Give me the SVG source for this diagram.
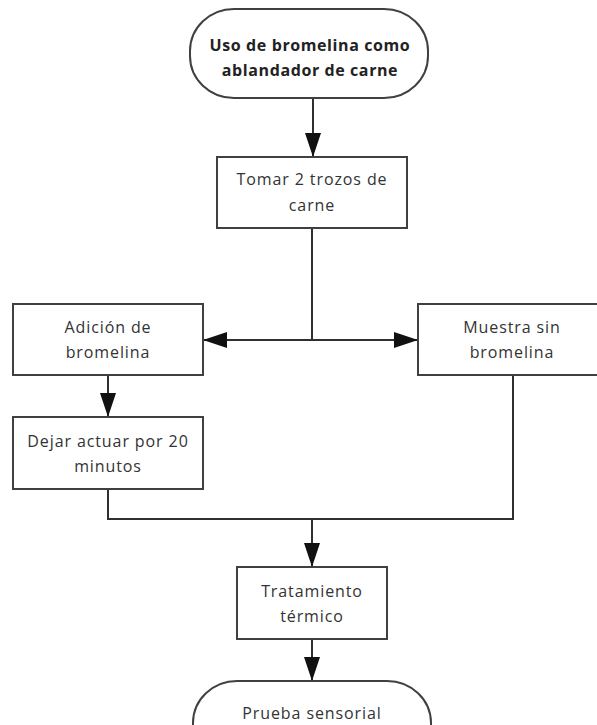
<svg xmlns="http://www.w3.org/2000/svg" width="597" height="725" viewBox="0 0 597 725">
<style>
.node{fill:#ffffff;stroke:#404040;stroke-width:2}
.t{font-family:"Open Sans","Noto Sans",sans-serif;font-size:16px;letter-spacing:0.9px;fill:#333333;text-anchor:middle}
.b{font-weight:bold;fill:#222222;letter-spacing:0.6px}
.c{fill:none;stroke:#303030;stroke-width:2}
</style>
<defs>
<marker id="ah" markerUnits="userSpaceOnUse" markerWidth="26" markerHeight="18" refX="24" refY="8" orient="auto">
<path d="M0 0 L24 8 L0 16 Z" fill="#111111"/>
</marker>
</defs>
<rect width="597" height="725" fill="#ffffff"/>
<g id="connectors">
<path class="c" d="M313 98 V157" marker-end="url(#ah)"/>
<path class="c" d="M312 228 V340"/>
<path class="c" d="M312 340 H203" marker-end="url(#ah)"/>
<path class="c" d="M312 340 H418" marker-end="url(#ah)"/>
<path class="c" d="M108 375 V417" marker-end="url(#ah)"/>
<path class="c" d="M108 489 V519 H312 V567" marker-end="url(#ah)"/>
<path class="c" d="M513 375 V519 H312"/>
<path class="c" d="M312 639 V681" marker-end="url(#ah)"/>
</g>
<g id="start">
<rect class="node" x="190" y="9" width="238" height="89" rx="44" ry="42"/>
<text class="t b" x="310" y="51">Uso de bromelina como</text>
<text class="t b" x="310" y="76">ablandador de carne</text>
</g>
<g id="tomar">
<rect class="node" x="217" y="157" width="190" height="71"/>
<text class="t" x="312" y="185">Tomar 2 trozos de</text>
<text class="t" x="312" y="211">carne</text>
</g>
<g id="adicion">
<rect class="node" x="13" y="304" width="190" height="71"/>
<text class="t" x="108" y="333">Adición de</text>
<text class="t" x="108" y="358">bromelina</text>
</g>
<g id="muestra">
<rect class="node" x="418" y="304" width="190" height="71"/>
<text class="t" x="512" y="333">Muestra sin</text>
<text class="t" x="512" y="358">bromelina</text>
</g>
<g id="dejar">
<rect class="node" x="13" y="417" width="190" height="72"/>
<text class="t" x="108" y="447">Dejar actuar por 20</text>
<text class="t" x="108" y="472">minutos</text>
</g>
<g id="tratamiento">
<rect class="node" x="237" y="567" width="150" height="72"/>
<text class="t" x="312" y="597">Tratamiento</text>
<text class="t" x="312" y="622">térmico</text>
</g>
<g id="prueba">
<rect class="node" x="193" y="681" width="238" height="89" rx="44" ry="42"/>
<text class="t" x="312" y="719">Prueba sensorial</text>
</g>
</svg>
